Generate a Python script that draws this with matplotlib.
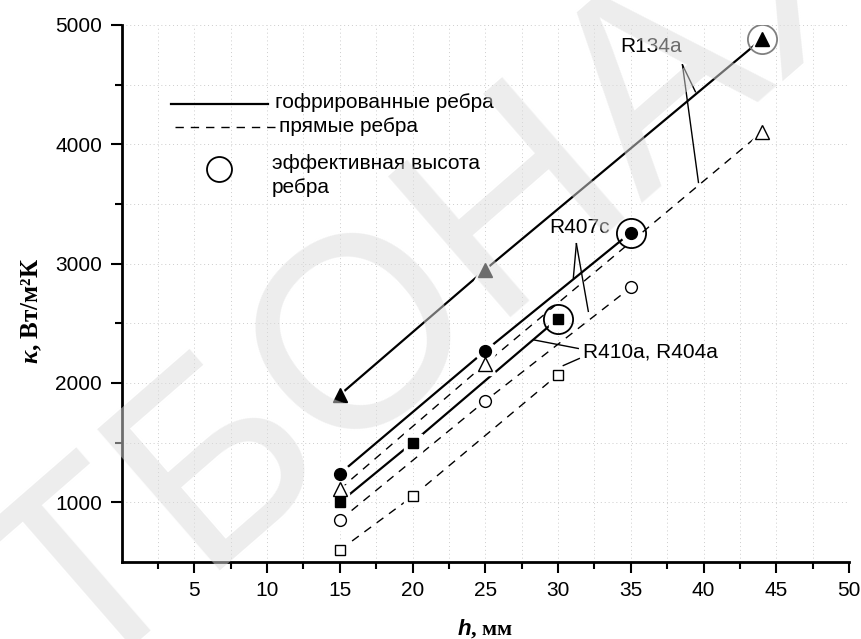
import matplotlib.pyplot as plt
from matplotlib.ticker import FixedLocator

plt.rcParams['font.family'] = ['Liberation Sans', 'DejaVu Sans']
plt.rcParams['mathtext.fontset'] = 'custom'
plt.rcParams['mathtext.it'] = 'Liberation Serif:italic:bold'
plt.rcParams['mathtext.bfit'] = 'Liberation Sans:italic:bold'

# h, mm  /  k, W/(m2 K)
h_r134a = [15, 25, 44]
k_r134a_gofr = [1900, 2950, 4880]
k_r134a_pr = [1110, 2160, 4100]

h_r407c = [15, 25, 35]
k_r407c_gofr = [1240, 2270, 3260]
k_r407c_pr = [850, 1850, 2800]

h_r410a = [15, 20, 30]
k_r410a_gofr = [1000, 1500, 2540]
k_r410a_pr = [600, 1050, 2070]

x_ticks = [5, 10, 15, 20, 25, 30, 35, 40, 45, 50]
y_ticks = [1000, 2000, 3000, 4000, 5000]

fig = plt.figure(figsize=(8.62, 6.39), dpi=100)
ax = fig.add_axes([0.141, 0.1205, 0.844, 0.8405])

series = [
    (h_r134a, k_r134a_gofr, '-', '^', 'k', 9.5),
    (h_r134a, k_r134a_pr, '--', '^', 'w', 9.5),
    (h_r407c, k_r407c_gofr, '-', 'o', 'k', 8.5),
    (h_r407c, k_r407c_pr, '--', 'o', 'w', 8.5),
    (h_r410a, k_r410a_gofr, '-', 's', 'k', 7.5),
    (h_r410a, k_r410a_pr, '--', 's', 'w', 7.5),
]
for x, y, ls, m, fc, ms in series:
    if ls == '-':
        ax.plot(x, y, '-', color='k', lw=1.6, zorder=2)
    else:
        ax.plot(x, y, color='k', lw=1.0, dashes=(6, 5), zorder=2)
    # white halo leaves a small gap between line and symbol
    ax.plot(x, y, ls='none', marker=m, ms=ms + 6, mfc='w', mec='w', zorder=3)
    ax.plot(x, y, ls='none', marker=m, ms=ms, mfc=fc, mec='k', mew=1.0, zorder=4)

# effective fin height
ax.plot(h_r134a[-1], k_r134a_gofr[-1], 'o', ms=21, mfc='none', mec='#808080', mew=1.3, zorder=5)
ax.plot(h_r407c[-1], k_r407c_gofr[-1], 'o', ms=21, mfc='none', mec='k', mew=1.3, zorder=5)
ax.plot(h_r410a[-1], k_r410a_gofr[-1], 'o', ms=21, mfc='none', mec='k', mew=1.3, zorder=5)

# refrigerant labels with leader lines
kw = dict(color='k', lw=1.0, zorder=6)
ax.text(36.4, 4816, 'R134a', fontsize=15, ha='center', va='center')
ax.plot([38.55, 39.44], [4665, 4440], **kw)
ax.plot([38.55, 39.65], [4665, 3680], **kw)

ax.text(31.45, 3300, 'R407c', fontsize=15, ha='center', va='center')
ax.plot([31.26, 31.05], [3167, 2880], **kw)
ax.plot([31.26, 32.08], [3167, 2600], **kw)

ax.text(31.72, 2261, 'R410a, R404a', fontsize=15, ha='left', va='center')
ax.plot([31.39, 28.37], [2289, 2360], **kw)
ax.plot([31.46, 30.36], [2205, 2146], **kw)

# legend drawn by hand
tr = ax.transAxes
ax.plot([0.068, 0.201], [0.853, 0.853], '-', color='k', lw=1.6, transform=tr)
ax.text(0.211, 0.856, 'гофрированные ребра', fontsize=15, va='center', transform=tr)
ax.plot([0.0735, 0.211], [0.810, 0.810], color='k', lw=1.0, dashes=(6, 5), transform=tr)
ax.text(0.216, 0.810, 'прямые ребра', fontsize=15, va='center', transform=tr)
ax.plot([0.134], [0.732], 'o', ms=18, mfc='none', mec='k', mew=1.3, transform=tr)
ax.text(0.207, 0.720, 'эффективная высота\nребра', fontsize=15, va='center',
        linespacing=1.3, transform=tr)

ax.set_xlim(0, 50)
ax.set_ylim(500, 5000)
ax.set_xticks(x_ticks)
ax.set_yticks(y_ticks)
ax.xaxis.set_minor_locator(FixedLocator([x - 2.5 for x in x_ticks]))
ax.yaxis.set_minor_locator(FixedLocator([y - 500 for y in y_ticks[1:]]))
ax.grid(True, which='both', ls=(0, (1, 3)), color='#cccccc', lw=0.7)
ax.set_axisbelow(True)
ax.tick_params(which='major', direction='out', length=8, width=1.5, labelsize=15, pad=6)
ax.tick_params(which='minor', direction='out', length=5, width=1.5)
for s in ['top', 'right']:
    ax.spines[s].set_visible(False)
for s in ['left', 'bottom']:
    ax.spines[s].set_linewidth(2)

ax.set_xlabel(r'$\mathbfit{h}$, мм', fontsize=16, fontfamily='Liberation Serif',
              fontweight='bold', labelpad=12)
ax.set_ylabel(r'$\mathit{\kappa}$, Вт/м²К', fontsize=18, fontfamily='Liberation Serif',
              fontweight='bold')
ax.yaxis.set_label_coords(-0.106, 0.467)

# watermark
ax.text(0.522, 0.573, 'ТБОНАХ', transform=fig.transFigure, rotation=41, fontsize=195,
        color='#dcdcdc', alpha=0.5, ha='center', va='center', zorder=10, clip_on=False)

fig.savefig('out.png', dpi=100)
